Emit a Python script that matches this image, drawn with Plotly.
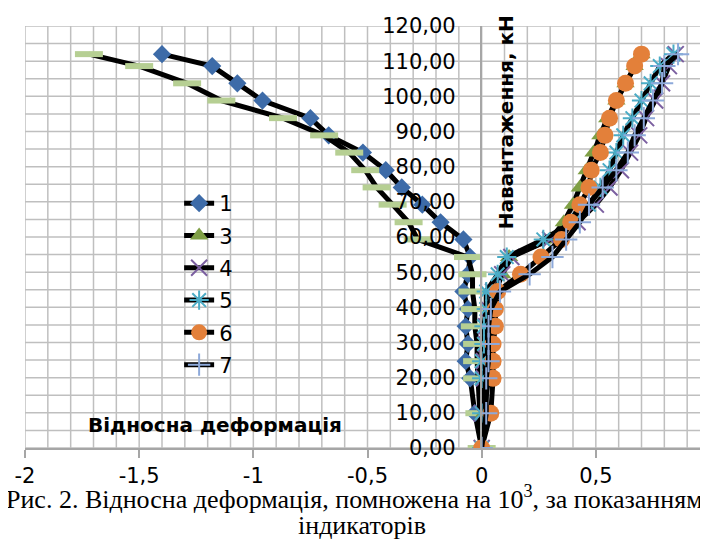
import plotly.graph_objects as go

loads = [0, 9.9, 19.8, 24.7, 29.6, 34.6, 39.5, 44.5, 49.4, 54.3, 59.3, 64.2,
         69.2, 74.1, 79.0, 84.0, 88.9, 93.8, 98.8, 103.7, 108.6, 112.0]

s1 = [0, -0.03, -0.05, -0.07, -0.06, -0.07, -0.06, -0.08, -0.06, -0.05, -0.08, -0.18,
      -0.26, -0.35, -0.42, -0.52, -0.67, -0.75, -0.96, -1.07, -1.18, -1.40]
s2 = [0, -0.01, -0.02, -0.02, -0.02, -0.03, -0.03, -0.04, -0.04, -0.06, -0.28, -0.32,
      -0.39, -0.46, -0.51, -0.58, -0.69, -0.87, -1.14, -1.29, -1.50, -1.72]
s3 = [0, 0.01, 0.03, 0.04, 0.04, 0.05, 0.05, 0.06, 0.09, 0.12, 0.30, 0.36,
      0.40, 0.43, 0.46, 0.49, 0.52, 0.55, 0.59, 0.63, 0.67, 0.70]
s4 = [0, 0.0, 0.01, 0.01, 0.02, 0.02, 0.03, 0.05, 0.09, 0.13, 0.30, 0.42,
      0.50, 0.56, 0.61, 0.65, 0.69, 0.72, 0.76, 0.79, 0.82, 0.85]
s5 = [0, 0.0, 0.0, 0.0, 0.01, 0.01, 0.02, 0.02, 0.07, 0.11, 0.27, 0.40,
      0.47, 0.52, 0.56, 0.59, 0.62, 0.66, 0.70, 0.74, 0.78, 0.84]
s6 = [0, 0.04, 0.05, 0.05, 0.05, 0.06, 0.06, 0.07, 0.17, 0.26, 0.35, 0.39,
      0.43, 0.47, 0.48, 0.52, 0.54, 0.56, 0.59, 0.63, 0.67, 0.70]
s7 = [0, 0.02, 0.02, 0.03, 0.03, 0.03, 0.04, 0.08, 0.21, 0.31, 0.37, 0.43,
      0.47, 0.53, 0.59, 0.64, 0.67, 0.71, 0.75, 0.79, 0.80, 0.86]

series_names = ["1", "2", "3", "4", "5", "6", "7"]

xticks = [-2, -1.5, -1, -0.5, 0, 0.5, 1]
xlabels = ["-2", "-1,5", "-1", "-0,5", "0", "0,5", "1"]
yticks = [0, 10, 20, 30, 40, 50, 60, 70, 80, 90, 100, 110, 120]
ylabels = ["0,00", "10,00", "20,00", "30,00", "40,00", "50,00", "60,00",
           "70,00", "80,00", "90,00", "100,00", "110,00", "120,00"]

# gridline positions (every 0.1 on x, every 5 on y)
xgrid = [round(-2 + 0.1 * i, 2) for i in range(31)]
ygrid = [5 * i for i in range(25)]
XR = [-2, 1]
YR = [0, 120]

FONT = "DejaVu Sans"
LINE = dict(color="black", width=5)
GRID = "#BFBFBF"

styles = [
    dict(symbol="diamond", size=14, color="#3D6BA8"),
    dict(symbol="line-ew", size=20, color="#B6CF93", line=dict(color="#B6CF93", width=6)),
    dict(symbol="triangle-up", size=16, color="#7F9F45"),
    dict(symbol="x-thin", size=16, color="#7B5FA0", line=dict(color="#7B5FA0", width=2)),
    dict(symbol="asterisk", size=16, color="#4BACC6", line=dict(color="#4BACC6", width=2)),
    dict(symbol="circle", size=17, color="#E3803A"),
    dict(symbol="cross-thin", size=16, color="#8DA9DA", line=dict(color="#8DA9DA", width=2)),
]
data = [s1, s2, s3, s4, s5, s6, s7]

fig = go.Figure()

# background grid as one line trace built from the grid positions
gx, gy = [], []
for v in xgrid:
    gx += [v, v, None]
    gy += [YR[0], YR[1], None]
for v in ygrid:
    gx += [XR[0], XR[1], None]
    gy += [v, v, None]
fig.add_trace(go.Scatter(x=gx, y=gy, mode="lines", line=dict(color=GRID, width=1.5),
                         hoverinfo="skip", showlegend=False, cliponaxis=False))

for name, xs, st in zip(series_names, data, styles):
    # series "7" (all x >= 0) sits on the right-hand axis pair whose left edge is x = 0,
    # which carries the load labels; that pair maps exactly like the main axes
    on_right = name == "7"
    fig.add_trace(go.Scatter(
        x=xs, y=loads, mode="lines+markers", name=name,
        line=LINE, marker=st, showlegend=(name != "2"),
        legendgroup=name,
        xaxis="x2" if on_right else "x",
        yaxis="y2" if on_right else "y",
    ))

fig.update_layout(
    width=708, height=556,
    margin=dict(l=17, r=6, t=15, b=116),
    paper_bgcolor="white", plot_bgcolor="rgba(0,0,0,0)",
    font=dict(family=FONT, size=21, color="black"),
    showlegend=True,
    legend=dict(x=0.225, y=0.628, xanchor="left", yanchor="top",
                bgcolor="rgba(0,0,0,0)", font=dict(size=21),
                tracegroupgap=2),
    xaxis=dict(range=XR, domain=[0, 1], tickmode="array", tickvals=xticks, ticktext=xlabels,
               showgrid=False, zeroline=False, showline=True, linecolor="#A6A6A6", linewidth=1.5,
               ticks="outside", ticklen=8, tickcolor="#A6A6A6", tickwidth=1.5,
               tickfont=dict(size=21)),
    yaxis=dict(range=YR, tickmode="array", tickvals=ygrid, showticklabels=False,
               showgrid=False, zeroline=False, showline=False, ticks=""),
    xaxis2=dict(range=[0, 1], domain=[2 / 3, 1], anchor="y2", visible=False),
    yaxis2=dict(range=YR, anchor="x2", side="left",
                tickmode="array", tickvals=yticks, ticktext=ylabels,
                showgrid=False, zeroline=False, showline=True,
                linecolor="#A6A6A6", linewidth=1.5,
                ticks="outside", ticklen=20, tickcolor="rgba(0,0,0,0)",
                tickfont=dict(size=21)),
)

fig.add_annotation(x=0.105, y=92.5, xref="x", yref="y", text="<b>Навантаження, кН</b>",
                   textangle=-90, showarrow=False, xanchor="center", yanchor="middle",
                   font=dict(size=20, family=FONT))
fig.add_annotation(x=-1.17, y=6.5, xref="x", yref="y", text="<b>Відносна деформація</b>",
                   showarrow=False, xanchor="center", yanchor="middle",
                   font=dict(size=20, family=FONT))
fig.add_annotation(x=(346 - 17) / 685, y=-(490 - 440) / 425, xref="paper", yref="paper",
                   text="Рис. 2. Відносна деформація, помножена на 10<sup>3</sup>, за показанням",
                   showarrow=False, xanchor="center", yanchor="middle",
                   font=dict(size=26, family="Liberation Serif"))
fig.add_annotation(x=(354 - 17) / 685, y=-(518 - 440) / 425, xref="paper", yref="paper",
                   text="індикаторів",
                   showarrow=False, xanchor="center", yanchor="middle",
                   font=dict(size=26, family="Liberation Serif"))

fig.write_html("out.html")
